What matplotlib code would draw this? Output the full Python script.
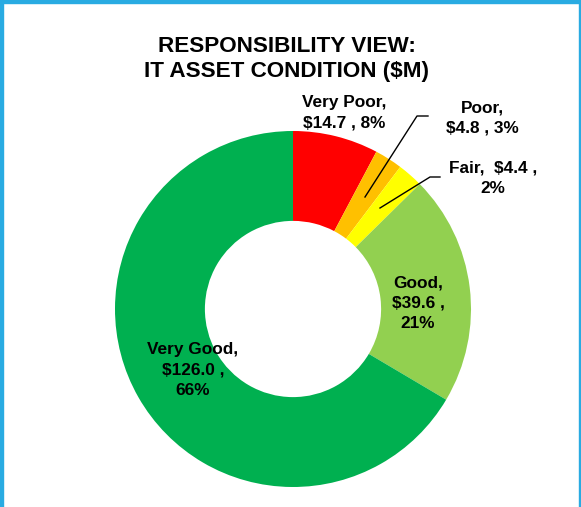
import matplotlib.pyplot as plt
import matplotlib.patches as mpatches

# ── Data ──────────────────────────────────────────────────────────────────────
categories = ["Very Poor", "Poor", "Fair", "Good", "Very Good"]
values = [14.7, 4.8, 4.4, 39.6, 126.0]
percents = [8, 3, 2, 21, 66]
colors = ["#FF0000", "#FFC000", "#FFFF00", "#92D050", "#00B050"]

title = "RESPONSIBILITY VIEW:\nIT ASSET CONDITION ($M)"

# ── Figure (pixel coordinates, y up) ─────────────────────────────────────────
W, H = 581, 507
plt.rcParams["font.family"] = ["Liberation Sans", "DejaVu Sans"]

fig = plt.figure(figsize=(W / 100, H / 100), dpi=100)
ax = fig.add_axes([0, 0, 1, 1])

cx, cy, r = 293, H - 309, 178
ax.pie(
    values,
    colors=colors,
    startangle=90,
    counterclock=False,
    center=(cx, cy),
    radius=r,
    wedgeprops=dict(width=r * 0.505, linewidth=0),
    frame=True,
)
ax.set_xlim(0, W)
ax.set_ylim(0, H)
ax.set_aspect("equal")
ax.axis("off")

# ── Labels ───────────────────────────────────────────────────────────────────
lab = dict(fontsize=12.4, fontweight="bold", ha="center", va="center",
           color="black", linespacing=1.45)

ax.text(344, H - 113, f"{categories[0]},\n${values[0]:.1f} , {percents[0]}%", **lab)
ax.text(482, H - 118, f"{categories[1]},\n${values[1]:.1f} , {percents[1]}%", **lab)
ax.text(493, H - 178, f"{categories[2]},  ${values[2]:.1f} ,\n{percents[2]}%", **lab)
ax.text(418, H - 303, f"{categories[3]},\n${values[3]:.1f} ,\n{percents[3]}%", **lab)
ax.text(193, H - 370, f"{categories[4]},\n${values[4]:.1f} ,\n{percents[4]}%", **lab)

# leader lines for the thin slices
ax.plot([365, 417, 428], [H - 197, H - 116, H - 116], color="black", lw=1)
ax.plot([380, 430, 440], [H - 208, H - 177, H - 177], color="black", lw=1)

ax.text(287, H - 59, title, fontsize=16.2, fontweight="bold", ha="center",
        va="center", linespacing=1.3)

# ── Border ───────────────────────────────────────────────────────────────────
bc = "#29ABE2"
ax.add_patch(mpatches.Rectangle((0, 0), 3, H, color=bc, clip_on=False))
ax.add_patch(mpatches.Rectangle((0, H - 3), W, 3, color=bc, clip_on=False))
ax.add_patch(mpatches.Rectangle((W - 2.5, 0), 2.5, H, color=bc, clip_on=False))

fig.savefig("out.png", dpi=100)
